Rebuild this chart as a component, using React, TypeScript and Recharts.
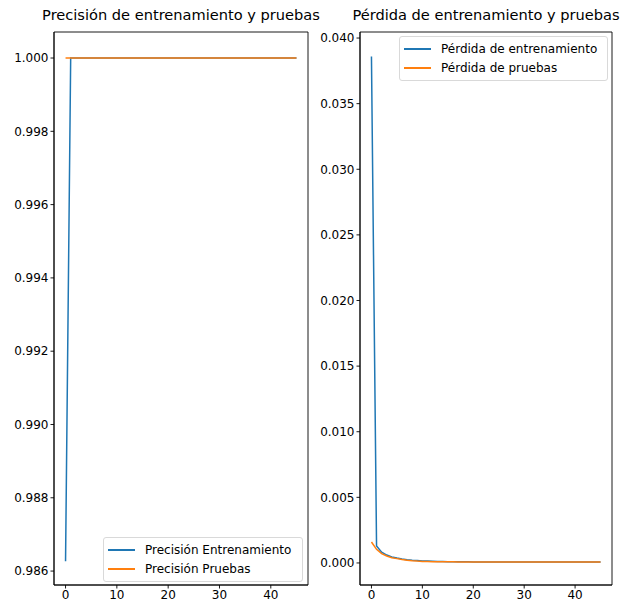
import { LineChart, Line, XAxis, YAxis, ReferenceArea } from "recharts"

// ─── Data ──────────────────────────────────────────────────────────────────────

const EPOCHS = [
    0, 1, 2, 3, 4, 5, 6, 7, 8, 9, 10, 11, 12, 13, 14, 15, 16, 17, 18, 19, 20, 21, 22,
    23, 24, 25, 26, 27, 28, 29, 30, 31, 32, 33, 34, 35, 36, 37, 38, 39, 40, 41, 42, 43, 44, 45,
]

const ACC_TRAIN = [
    0.98627, 1, 1, 1, 1, 1, 1, 1, 1, 1, 1, 1, 1, 1, 1, 1, 1, 1, 1, 1, 1, 1, 1,
    1, 1, 1, 1, 1, 1, 1, 1, 1, 1, 1, 1, 1, 1, 1, 1, 1, 1, 1, 1, 1, 1, 1,
]

const ACC_TEST = [
    1, 1, 1, 1, 1, 1, 1, 1, 1, 1, 1, 1, 1, 1, 1, 1, 1, 1, 1, 1, 1, 1, 1,
    1, 1, 1, 1, 1, 1, 1, 1, 1, 1, 1, 1, 1, 1, 1, 1, 1, 1, 1, 1, 1, 1, 1,
]

const LOSS_TRAIN = [
    0.0386, 0.0013, 0.00082, 0.0006, 0.00046, 0.00037, 0.0003, 0.00025, 0.00021, 0.00018,
    0.00015, 0.00014, 0.00013, 0.00012, 0.00011, 0.0001, 0.0001, 0.00009, 0.00009, 0.00009,
    0.00008, 0.00008, 0.00008, 0.00008, 0.00008, 0.00008, 0.00008, 0.00008, 0.00008, 0.00008,
    0.00008, 0.00008, 0.00008, 0.00008, 0.00008, 0.00008, 0.00008, 0.00008, 0.00008, 0.00008,
    0.00008, 0.00008, 0.00008, 0.00008, 0.00008, 0.00008,
]

const LOSS_TEST = [
    0.0016, 0.00104, 0.00071, 0.00053, 0.0004, 0.00033, 0.00026, 0.00021, 0.00017, 0.00014,
    0.00012, 0.00011, 0.0001, 0.0001, 0.00009, 0.00009, 0.00009, 0.00008, 0.00008, 0.00008,
    0.00008, 0.00008, 0.00008, 0.00008, 0.00008, 0.00008, 0.00008, 0.00008, 0.00008, 0.00008,
    0.00008, 0.00008, 0.00008, 0.00008, 0.00008, 0.00008, 0.00008, 0.00008, 0.00008, 0.00008,
    0.00008, 0.00008, 0.00008, 0.00008, 0.00008, 0.00008,
]

const X_TICKS = [0, 10, 20, 30, 40]
const ACC_TICKS = [0.986, 0.988, 0.99, 0.992, 0.994, 0.996, 0.998, 1.0]
const LOSS_TICKS = [0, 0.005, 0.01, 0.015, 0.02, 0.025, 0.03, 0.035, 0.04]

const ACC_ROWS = EPOCHS.map((e, i) => ({ epoch: e, train: ACC_TRAIN[i], test: ACC_TEST[i] }))
const LOSS_ROWS = EPOCHS.map((e, i) => ({ epoch: e, train: LOSS_TRAIN[i], test: LOSS_TEST[i] }))

// ─── Styles ────────────────────────────────────────────────────────────────────

const BLUE = "#1f77b4"
const ORANGE = "#ff7f0e"
const FONT = "'DejaVu Sans', sans-serif"

const X_DOMAIN: [number, number] = [-2.25, 47.25]
const ACC_DOMAIN: [number, number] = [0.98562, 1.00071]
const LOSS_DOMAIN: [number, number] = [-0.00168, 0.04046]

const tickStyle = { fill: "#000", fontSize: 12, fontFamily: FONT }
const lineStyle = { stroke: "#000", strokeWidth: 0.9 }

const fmt3 = (v: number) => v.toFixed(3)

// ─── Pieces ────────────────────────────────────────────────────────────────────

function Title({ text, center }: { text: string; center: number }) {
    return (
        <div
            style={{
                position: "absolute",
                top: 6,
                left: center - 200,
                width: 400,
                textAlign: "center",
                fontFamily: FONT,
                fontSize: 14.6,
                color: "#000",
                whiteSpace: "nowrap",
            }}
        >
            {text}
        </div>
    )
}

type LegendItem = { label: string; color: string }

function LegendBox({ items, left, top, width }: { items: LegendItem[]; left: number; top: number; width: number }) {
    return (
        <div
            style={{
                position: "absolute",
                left,
                top,
                width,
                boxSizing: "border-box",
                padding: "2px 0 2px 4px",
                background: "rgba(255,255,255,0.8)",
                border: "1px solid #d9d9d9",
                borderRadius: 3,
                fontFamily: FONT,
                fontSize: 12,
                color: "#000",
            }}
        >
            {items.map((it) => (
                <div key={it.label} style={{ display: "flex", alignItems: "center", height: 19.5 }}>
                    <span style={{ display: "inline-block", flexShrink: 0, width: 27, height: 2, background: it.color, marginRight: 10 }} />
                    <span style={{ whiteSpace: "nowrap" }}>{it.label}</span>
                </div>
            ))}
        </div>
    )
}

function Panel({ rows, yDomain, yTicks, width }: { rows: typeof ACC_ROWS; yDomain: [number, number]; yTicks: number[]; width: number }) {
    return (
        <LineChart width={width} height={607} data={rows} margin={{ top: 32, right: 4, bottom: 0, left: 0 }}>
            <XAxis
                dataKey="epoch"
                type="number"
                domain={X_DOMAIN}
                ticks={X_TICKS}
                tick={tickStyle}
                axisLine={lineStyle}
                tickLine={lineStyle}
                tickSize={3.5}
                height={22}
                allowDataOverflow
            />
            <YAxis
                type="number"
                domain={yDomain}
                ticks={yTicks}
                tickFormatter={fmt3}
                tick={tickStyle}
                axisLine={lineStyle}
                tickLine={lineStyle}
                tickSize={3.5}
                width={54}
                allowDataOverflow
            />
            <ReferenceArea
                x1={X_DOMAIN[0]}
                x2={X_DOMAIN[1]}
                y1={yDomain[0]}
                y2={yDomain[1]}
                fill="none"
                fillOpacity={0}
                stroke="#000"
                strokeWidth={0.9}
                ifOverflow="visible"
            />
            <Line dataKey="train" stroke={BLUE} strokeWidth={1.5} dot={false} isAnimationActive={false} />
            <Line dataKey="test" stroke={ORANGE} strokeWidth={1.5} dot={false} isAnimationActive={false} />
        </LineChart>
    )
}

// ─── Component ─────────────────────────────────────────────────────────────────

export default function App() {
    return (
        <div style={{ position: "absolute", left: 0, top: 0, width: 623, height: 607, background: "#fff", overflow: "hidden" }}>
            <Title text="Precisión de entrenamiento y pruebas" center={181} />
            <Title text="Pérdida de entrenamiento y pruebas" center={486} />

            <div style={{ position: "absolute", left: 0, top: 0 }}>
                <Panel rows={ACC_ROWS} yDomain={ACC_DOMAIN} yTicks={ACC_TICKS} width={312} />
            </div>

            <div style={{ position: "absolute", left: 306, top: 0 }}>
                <Panel rows={LOSS_ROWS} yDomain={LOSS_DOMAIN} yTicks={LOSS_TICKS} width={310} />
            </div>

            <LegendBox
                left={103}
                top={537}
                width={200}
                items={[
                    { label: "Precisión Entrenamiento", color: BLUE },
                    { label: "Precisión Pruebas", color: ORANGE },
                ]}
            />
            <LegendBox
                left={399}
                top={36}
                width={209}
                items={[
                    { label: "Pérdida de entrenamiento", color: BLUE },
                    { label: "Pérdida de pruebas", color: ORANGE },
                ]}
            />
        </div>
    )
}
